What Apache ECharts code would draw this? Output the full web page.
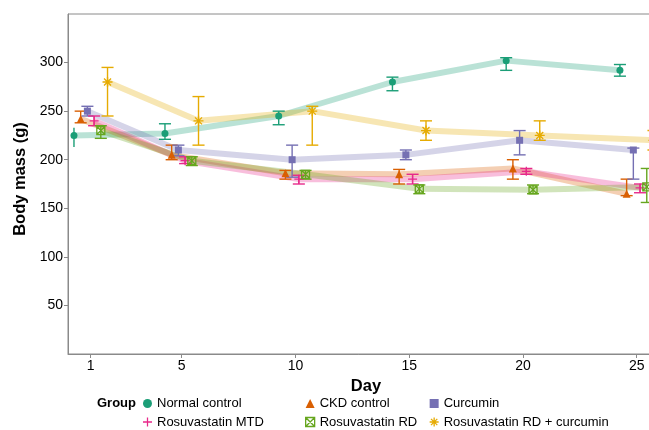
<!DOCTYPE html>
<html>
<head>
<meta charset="utf-8">
<script src="https://cdn.jsdelivr.net/npm/echarts@6/dist/echarts.min.js"></script>
<style>html,body{margin:0;padding:0;background:#fff}#c{width:649px;height:430px}</style>
</head>
<body>
<div id="c"></div>
<script>
// ---- data ----
const days = [1, 5, 10, 15, 20, 25];
const yTicks = [50, 100, 150, 200, 250, 300];
const groups = ['Normal control', 'CKD control', 'Curcumin', 'Rosuvastatin MTD', 'Rosuvastatin RD', 'Rosuvastatin RD + curcumin'];
const colors = ['#1B9E77', '#D95F02', '#7570B3', '#E7298A', '#66A61E', '#E6AB02'];

const normalMean = [225, 227, 245, 280, 302, 292];
const normalLo   = [213, 221, 236, 271, 292, 286];
const normalHi   = [233, 237, 250, 285, 305, 298];

const ckdMean = [242, 205, 186, 185, 191, 165];
const ckdLo   = [238, 200, 180, 175, 180, 163];
const ckdHi   = [250, 215, 189, 190, 200, 180];

const curMean = [250, 210, 200, 205, 220, 210];
const curLo   = [245, 204, 182, 200, 205, 180];
const curHi   = [255, 215, 215, 210, 230, 212];

const mtdMean = [240, 199, 180, 180, 188, 171];
const mtdLo   = [235, 196, 175, 175, 185, 166];
const mtdHi   = [245, 203, 184, 185, 191, 175];

const rdMean = [230, 199, 185, 170, 169, 172];
const rdLo   = [222, 194, 180, 165, 165, 156];
const rdHi   = [235, 203, 189, 174, 174, 191];

const rdcMean = [280, 240, 250, 230, 225, 220];
const rdcLo   = [245, 215, 215, 220, 220, 210];
const rdcHi   = [295, 265, 255, 240, 240, 230];

const means = [normalMean, ckdMean, curMean, mtdMean, rdMean, rdcMean];
const los   = [normalLo, ckdLo, curLo, mtdLo, rdLo, rdcLo];
const his   = [normalHi, ckdHi, curHi, mtdHi, rdHi, rdcHi];

// ---- styling ----
const FONT = '"Liberation Sans", Arial, Helvetica, sans-serif';
const X_MIN = 0, X_MAX = 26.2;
const dodgeStep = 0.295;
const capHalf = 0.265;
const axisGray = '#8a8a8a';

const symPlus = 'path://M4.3,0 L5.7,0 L5.7,4.3 L10,4.3 L10,5.7 L5.7,5.7 L5.7,10 L4.3,10 L4.3,5.7 L0,5.7 L0,4.3 L4.3,4.3 Z';
const symSqX = 'path://M0,0 L10,0 L10,10 L0,10 Z M0,0 L10,10 M10,0 L0,10';
const symAst = 'path://M5,0 L5,10 M0,5 L10,5 M1.5,1.5 L8.5,8.5 M8.5,1.5 L1.5,8.5';
const symbols = ['circle', 'triangle', 'rect', symPlus, symSqX, symAst];
const symSizes = [7, 8, 7, 9, 8, 10];
const strokeOnly = [false, false, false, false, true, true];

const chart = echarts.init(document.getElementById('c'), null, {renderer: 'canvas'});

function dodgeX(gi, d) { return d + (gi - (groups.length - 1) / 2) * dodgeStep; }

function hexA(hex, a) {
  const r = parseInt(hex.slice(1, 3), 16), g = parseInt(hex.slice(3, 5), 16), b = parseInt(hex.slice(5, 7), 16);
  return 'rgba(' + r + ',' + g + ',' + b + ',' + a + ')';
}

const series = [];
// thick translucent lines
groups.forEach((g, gi) => {
  series.push({
    name: g + ' line', type: 'line', silent: true, symbol: 'none', z: 1,
    data: days.map((d, i) => [dodgeX(gi, d), means[gi][i]]),
    lineStyle: {color: hexA(colors[gi], 0.3), width: 6, cap: 'butt', join: 'round'},
    itemStyle: {color: colors[gi]},
    clip: true
  });
});
// error bars
groups.forEach((g, gi) => {
  series.push({
    name: g + ' err', type: 'custom', silent: true, z: 3, clip: true,
    data: days.map((d, i) => [dodgeX(gi, d), los[gi][i], his[gi][i]]),
    encode: {x: 0, y: [1, 2]},
    renderItem: function (params, api) {
      const x = api.value(0), lo = api.value(1), hi = api.value(2);
      const pLo = api.coord([x, lo]), pHi = api.coord([x, hi]);
      const st = {stroke: colors[gi], lineWidth: 1.4};
      const ch = [{type: 'line', shape: {x1: pLo[0], y1: pLo[1], x2: pHi[0], y2: pHi[1]}, style: st}];
      if (x - capHalf >= X_MIN) {
        const l = api.coord([x - capHalf, lo])[0], r = api.coord([x + capHalf, lo])[0];
        ch.push({type: 'line', shape: {x1: l, y1: pLo[1], x2: r, y2: pLo[1]}, style: st});
        ch.push({type: 'line', shape: {x1: l, y1: pHi[1], x2: r, y2: pHi[1]}, style: st});
      }
      return {type: 'group', children: ch};
    }
  });
});
// points
groups.forEach((g, gi) => {
  series.push({
    name: g, type: 'scatter', z: 4, clip: true,
    symbol: symbols[gi], symbolSize: symSizes[gi],
    data: days.map((d, i) => [dodgeX(gi, d), means[gi][i]]),
    itemStyle: strokeOnly[gi]
      ? {color: 'rgba(255,255,255,0)', borderColor: colors[gi], borderWidth: 1.3, opacity: 1}
      : {color: colors[gi], opacity: 1}
  });
});

function legendItem(gi) {
  return {
    name: groups[gi], icon: symbols[gi],
    itemStyle: strokeOnly[gi]
      ? {color: 'rgba(255,255,255,0)', borderColor: colors[gi], borderWidth: 1.3}
      : {color: colors[gi], borderWidth: 0}
  };
}
const legendBase = {
  orient: 'vertical', top: 397, itemWidth: 9, itemHeight: 9, itemGap: 5.5,
  textStyle: {fontSize: 13, color: '#000', fontFamily: FONT}, padding: 0,
  selectedMode: false
};

const option = {
  animation: false,
  backgroundColor: '#fff',
  grid: {left: 68, top: 14, right: -15, bottom: 76, outerBoundsMode: 'none', containLabel: false,
         show: true, borderColor: axisGray, borderWidth: 1, backgroundColor: 'transparent'},
  xAxis: {
    type: 'value', min: X_MIN, max: X_MAX,
    axisLine: {show: true, onZero: false, lineStyle: {color: axisGray, width: 1}},
    axisTick: {show: true, length: 4, customValues: days, lineStyle: {color: axisGray}},
    axisLabel: {customValues: days, margin: 5, fontSize: 14, color: '#000', fontFamily: FONT},
    splitLine: {show: false},
    name: 'Day', nameLocation: 'middle', nameGap: 21,
    nameTextStyle: {fontWeight: 'bold', fontSize: 16.5, color: '#000', fontFamily: FONT}
  },
  yAxis: {
    type: 'value', min: 0, max: 350,
    axisLine: {show: true, onZero: false, lineStyle: {color: axisGray, width: 1}},
    axisTick: {show: true, length: 4, customValues: yTicks, lineStyle: {color: axisGray}},
    axisLabel: {customValues: yTicks, margin: 5, fontSize: 14, color: '#000', fontFamily: FONT},
    splitLine: {show: false}
  },
  legend: [
    Object.assign({}, legendBase, {left: 143, data: [legendItem(0), legendItem(3)]}),
    Object.assign({}, legendBase, {left: 305, data: [legendItem(1), legendItem(4)]}),
    Object.assign({}, legendBase, {left: 429, data: [legendItem(2), legendItem(5)]})
  ],
  graphic: [
    {type: 'text', left: 97, top: 396.5, style: {text: 'Group', font: 'bold 13px ' + FONT, fill: '#000'}},
    {type: 'text', x: 20, y: 179, rotation: Math.PI / 2,
     style: {text: 'Body mass (g)', font: 'bold 16.5px ' + FONT, fill: '#000', align: 'center', verticalAlign: 'middle'}}
  ],
  series: series
};
chart.setOption(option);
</script>
</body>
</html>
